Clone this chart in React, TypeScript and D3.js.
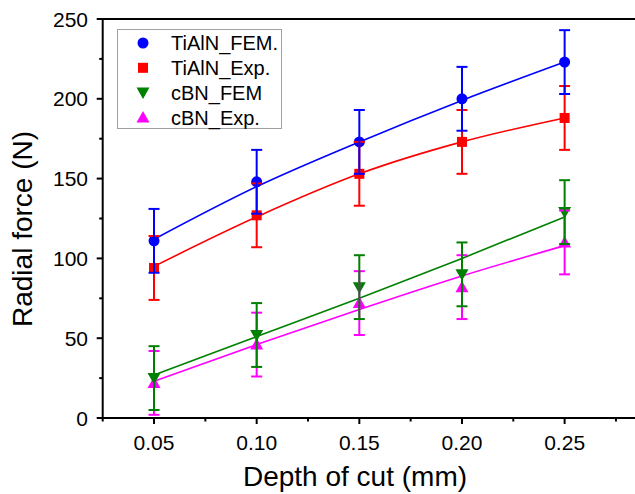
import * as d3 from "d3";

const depths = [0.05, 0.1, 0.15, 0.2, 0.25];
const xTickLabels = ["0.05", "0.10", "0.15", "0.20", "0.25"];
const yTicks = [0, 50, 100, 150, 200, 250];

const tialnFem = [111, 148, 173, 200, 223];
const tialnExp = [94, 127, 153, 173, 188];
const cbnFem = [25, 52, 82, 90, 129];
const cbnExp = [22, 46, 72, 82, 110];
const errors = [20, 20, 20, 20, 20];

// fitted curves
const tialnFemFit = [112, 145, 173, 199, 223];
const tialnExpFit = [95, 126, 153, 173, 188];
const cbnFemFit = [27, 51, 75, 100, 126];
const cbnExpFit = [23, 46, 68, 89, 108];

const series = [
  { name: "TiAlN_FEM.", values: tialnFem, fit: tialnFemFit, color: "#0000ff", shape: "circle" },
  { name: "TiAlN_Exp.", values: tialnExp, fit: tialnExpFit, color: "#ff0000", shape: "square" },
  { name: "cBN_FEM", values: cbnFem, fit: cbnFemFit, color: "#008000", shape: "down" },
  { name: "cBN_Exp.", values: cbnExp, fit: cbnExpFit, color: "#ff00ff", shape: "up" },
];

const font = "'Liberation Sans', Arial, sans-serif";

function Marker({ shape, x, y, color }) {
  if (shape === "circle") return <circle cx={x} cy={y} r={5.5} fill={color} />;
  if (shape === "square") return <rect x={x - 5} y={y - 5} width={10} height={10} fill={color} />;
  if (shape === "down")
    return <path d={`M${x - 6.5},${y - 5}L${x + 6.5},${y - 5}L${x},${y + 6.5}Z`} fill={color} />;
  return <path d={`M${x - 6.5},${y + 5}L${x + 6.5},${y + 5}L${x},${y - 6.5}Z`} fill={color} />;
}

export default function App() {
  const width = 635;
  const height = 494;
  const left = 102.7;
  const top = 19;
  const bottom = 418;

  const x = d3.scaleLinear().domain([0.025, 0.29]).range([left, left + 0.265 * 2053]);
  const y = d3.scaleLinear().domain([0, 250]).range([bottom, top]);

  const xMajor = depths;
  const xMinor = [0.025, 0.075, 0.125, 0.175, 0.225, 0.275];
  const yMinor = d3.range(25, 250, 50);

  const line = d3
    .line()
    .x((d) => x(d[0]))
    .y((d) => y(d[1]))
    .curve(d3.curveMonotoneX);

  const order = [3, 2, 1, 0];

  return (
    <svg
      width={width}
      height={height}
      style={{ position: "absolute", left: 0, top: 0 }}
      fontFamily={font}
    >
      <rect width={width} height={height} fill="#fff" />

      {/* fit lines */}
      {order.map((si) => {
        const s = series[si];
        return (
          <path
            key={"l" + si}
            d={line(depths.map((d, i) => [d, s.fit[i]]))}
            fill="none"
            stroke={s.color}
            strokeWidth={1.6}
          />
        );
      })}

      {/* markers */}
      {order.map((si) => {
        const s = series[si];
        return (
          <g key={"m" + si}>
            {depths.map((d, i) => (
              <Marker key={i} shape={s.shape} x={x(d)} y={y(s.values[i])} color={s.color} />
            ))}
          </g>
        );
      })}

      {/* error bars */}
      {order.map((si) => {
        const s = series[si];
        return (
          <g key={"e" + si} stroke={s.color} strokeWidth={2}>
            {depths.map((d, i) => {
              const cx = x(d);
              const y1 = y(s.values[i] + errors[i]);
              const y2 = y(s.values[i] - errors[i]);
              return (
                <g key={i}>
                  <line x1={cx} x2={cx} y1={y1} y2={y2} />
                  <line x1={cx - 5.5} x2={cx + 5.5} y1={y1} y2={y1} />
                  <line x1={cx - 5.5} x2={cx + 5.5} y1={y2} y2={y2} />
                </g>
              );
            })}
          </g>
        );
      })}

      {/* frame */}
      <g stroke="#000" strokeWidth={2}>
        <line x1={left} x2={width} y1={top} y2={top} />
        <line x1={left} x2={left} y1={top - 1} y2={bottom + 1} />
        <line x1={left - 1} x2={width} y1={bottom} y2={bottom} />
        {yTicks.map((t) => (
          <line key={"yt" + t} x1={left - 6} x2={left} y1={y(t)} y2={y(t)} />
        ))}
        {yMinor.map((t) => (
          <line key={"ym" + t} x1={left - 3.5} x2={left} y1={y(t)} y2={y(t)} />
        ))}
        {xMajor.map((t) => (
          <line key={"xt" + t} x1={x(t)} x2={x(t)} y1={bottom} y2={bottom + 6} />
        ))}
        {xMinor.map((t) => (
          <line key={"xm" + t} x1={x(t)} x2={x(t)} y1={bottom} y2={bottom + 3.5} />
        ))}
      </g>

      {yTicks.map((t) => (
        <text key={"yl" + t} x={88} y={y(t)} dy="0.36em" textAnchor="end" fontSize={21} fill="#000">
          {t}
        </text>
      ))}
      {xMajor.map((t, i) => (
        <text key={"xl" + t} x={x(t)} y={450} textAnchor="middle" fontSize={21} fill="#000">
          {xTickLabels[i]}
        </text>
      ))}

      <text x={355} y={486} textAnchor="middle" fontSize={28} fill="#000">
        Depth of cut (mm)
      </text>
      <text
        transform={`translate(32,229) rotate(-90)`}
        textAnchor="middle"
        fontSize={28}
        fill="#000"
      >
        Radial force (N)
      </text>

      {/* legend */}
      <rect x={117.5} y={29.5} width={164} height={99} fill="#fff" stroke="#a0a0a0" strokeWidth={1} />
      {series.map((s, i) => {
        const ly = 43 + i * 24.8;
        return (
          <g key={"lg" + i}>
            <Marker shape={s.shape} x={143} y={ly} color={s.color} />
            <text x={171} y={ly} dy="0.36em" fontSize={20} fill="#000">
              {s.name}
            </text>
          </g>
        );
      })}
    </svg>
  );
}
